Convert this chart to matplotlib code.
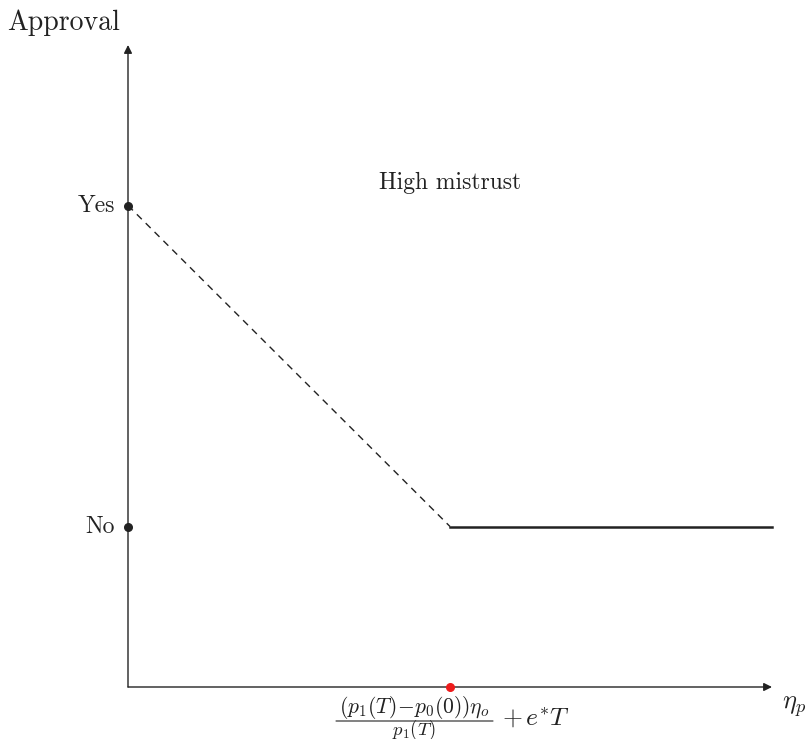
import matplotlib
matplotlib.use("Agg")
import matplotlib.pyplot as plt
from matplotlib.transforms import offset_copy

plt.rcParams['font.family'] = ['cmr10', 'DejaVu Serif']
plt.rcParams['mathtext.fontset'] = 'cm'
plt.rcParams['axes.unicode_minus'] = False

# data (x in units of the threshold, y: No=1, Yes=3)
x_max = 2.0
y_max = 4.0
threshold = 1.0
no_level = 1.0
yes_level = 3.0
dashed_x = [0.0, threshold]
dashed_y = [yes_level, no_level]
solid_x = [threshold, x_max]
solid_y = [no_level, no_level]
ytick_pos = [no_level, yes_level]
ytick_labels = ["No", "Yes"]
frac_num = r'$(p_1(T)\!-\!p_0(0))\eta_o$'
frac_den = r'$p_1(T)$'
frac_tail = r'$+\,e^{*}T$'

W, H = 808, 739
fig = plt.figure(figsize=(W / 100, H / 100), dpi=100)
ax = fig.add_axes([128 / W, (H - 687) / H, (772 - 128) / W, (687 - 45) / H])
ax.set_xlim(0, x_max)
ax.set_ylim(0, y_max)
ax.axis("off")

col = "#222222"
# axes with arrows
ax.annotate("", xy=(x_max, 0), xytext=(0, 0),
            arrowprops=dict(arrowstyle="-|>", color=col, lw=1.0, mutation_scale=12,
                            shrinkA=0, shrinkB=0), annotation_clip=False)
ax.annotate("", xy=(0, y_max), xytext=(0, 0),
            arrowprops=dict(arrowstyle="-|>", color=col, lw=1.0, mutation_scale=12,
                            shrinkA=0, shrinkB=0), annotation_clip=False)

ax.plot(dashed_x, dashed_y, color=col, lw=1.0, dashes=(5, 4), clip_on=False)
ax.plot(solid_x, solid_y, color=col, lw=1.8, clip_on=False)

ax.scatter([0, 0], ytick_pos, s=30, color=col, zorder=5, clip_on=False)
ax.scatter([threshold], [0], s=30, color="#ee1c1c", zorder=5, clip_on=False)

for yv, lab in zip(ytick_pos, ytick_labels):
    ax.text(-0.04, yv, lab, ha="right", va="center", fontsize=17, color=col)

# threshold label below the red dot, built as a stacked fraction
def off(dx, dy):
    return offset_copy(ax.transData, fig=fig, x=dx, y=dy, units="dots")

ax.text(threshold, 0, frac_num, transform=off(-36, -26), ha="center", va="baseline",
        fontsize=15.5, color=col)
ax.text(threshold, 0, frac_den, transform=off(-36, -47.5), ha="center", va="baseline",
        fontsize=13.5, color=col)
ax.annotate("", xy=(threshold, 0), xytext=(threshold, 0),
            xycoords=off(43, -34), textcoords=off(-114, -34),
            arrowprops=dict(arrowstyle="-", color=col, lw=0.8, shrinkA=0, shrinkB=0),
            annotation_clip=False)
ax.text(threshold, 0, frac_tail, transform=off(52, -38), ha="left", va="baseline",
        fontsize=18.5, color=col)

ax.text(x_max + 0.07, -0.12, r'$\eta_p$', ha="center", va="center", fontsize=19, color=col)
ax.text(-0.2, y_max + 0.14, "Approval", ha="center", va="center", fontsize=20, color=col)
ax.text(threshold, 3.14, "High mistrust", ha="center", va="center", fontsize=17, color=col)

fig.savefig("out.png", dpi=100)
